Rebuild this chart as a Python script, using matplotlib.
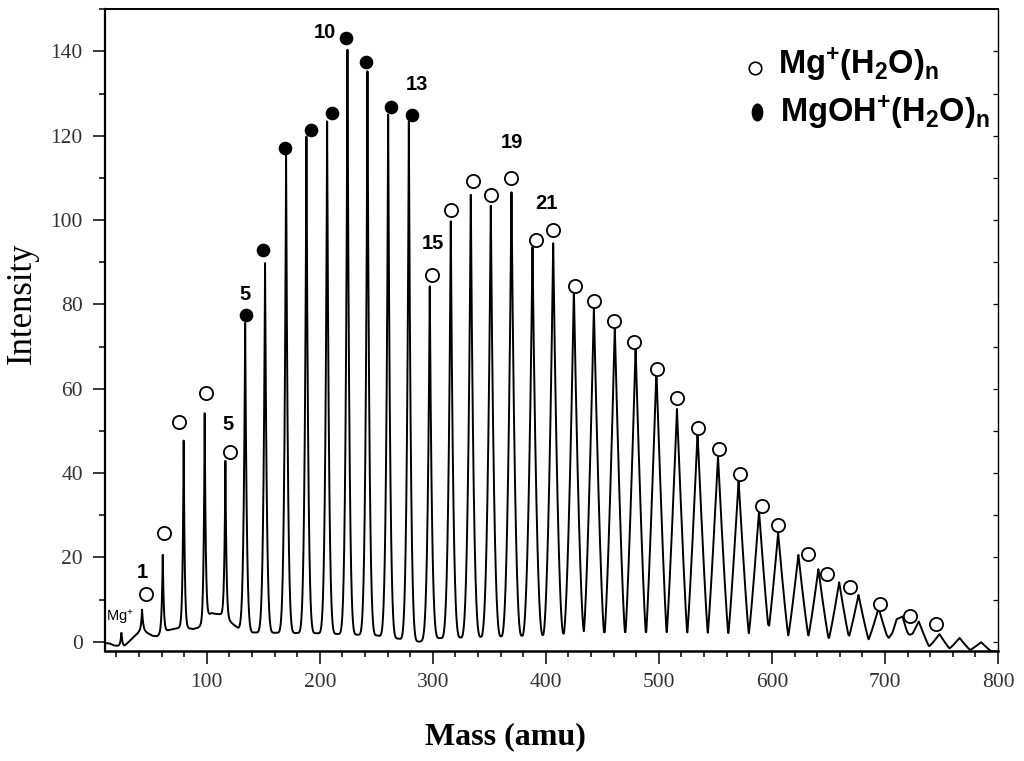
import numpy as np
import matplotlib
matplotlib.use('Agg')
import matplotlib.pyplot as plt
from matplotlib.ticker import MultipleLocator
from matplotlib.path import Path
from matplotlib.transforms import Affine2D

plt.rcParams['mathtext.fontset'] = 'custom'
plt.rcParams['mathtext.rm'] = 'Liberation Sans'
plt.rcParams['mathtext.bf'] = 'Liberation Sans:bold'
plt.rcParams['mathtext.it'] = 'Liberation Sans:italic'

# ---------------- data ----------------
# spectrum peak positions (amu) and apex intensities
peak_mass = [24.5, 42.8, 61.1, 79.6, 98.2, 116.5,
             134.0, 151.6, 170.2, 188.2, 206.5, 224.5, 242.2, 260.5, 278.8,
             297.3, 315.9, 333.6, 351.3, 369.6, 388.2, 406.5, 424.8, 442.5,
             461.0, 479.4, 497.8, 516.0, 534.2, 552.3, 570.5, 588.6, 605.5,
             623.4, 641.1, 659.5, 676.6, 694.4, 710.4, 715.5, 729.9, 748.2,
             766.0, 785.0]
peak_height = [2.1, 7.6, 20.6, 47.7, 54.2, 42.9,
               75.6, 89.8, 115.9, 119.8, 123.4, 140.4, 135.3, 125.0, 123.4,
               84.3, 99.7, 106.0, 103.4, 106.6, 93.6, 94.5, 83.8, 79.3,
               74.6, 69.6, 64.3, 55.2, 49.6, 44.0, 38.2, 31.0, 25.8,
               20.6, 17.2, 14.1, 11.1, 8.0, 5.4, 6.0, 4.8, 1.8,
               0.9, -0.1]

# baseline level between peaks
base_mass = [10, 14, 18, 22, 27, 30, 35, 40, 44, 48, 52, 56, 60, 64, 70, 76,
             80, 84, 88, 92, 96, 100, 104, 108, 112, 115, 120, 124, 128, 140,
             200, 250, 288, 300, 350, 400, 430, 500, 580, 600, 650, 700, 725,
             740, 760, 778, 796, 800]
base_val = [-0.3, -0.4, -0.9, -1.0, -1.0, -0.3, 1.0, 2.3, 2.8, 2.0, 1.4, 1.3,
            2.0, 2.6, 3.0, 3.3, 3.5, 3.2, 3.0, 3.3, 4.0, 6.0, 6.8, 6.6, 6.5,
            6.0, 5.0, 4.0, 3.2, 2.2, 2.0, 1.5, 0.0, 0.8, 1.2, 1.6, 2.2, 2.3,
            2.0, 1.6, 0.9, 0.3, 0.1, -1.1, -1.7, -1.9, -2.3, -2.3]

# Mg+(H2O)n markers (open circles)
mg_mass = [46.0, 61.9, 75.2, 99.7, 120.4, 299.4, 316.5, 335.7, 351.3, 368.8,
           391.2, 405.9, 426.0, 442.8, 460.5, 478.2, 498.0, 516.2, 534.8,
           553.4, 571.7, 590.9, 605.6, 632.0, 649.1, 668.9, 695.6, 722.2, 745.3]
mg_int = [11.3, 25.8, 52.0, 59.0, 45.1, 86.9, 102.3, 109.3, 106.0, 110.0,
          95.3, 97.7, 84.3, 80.9, 76.1, 71.1, 64.7, 57.8, 50.8,
          45.7, 39.8, 32.3, 27.7, 20.8, 16.1, 12.9, 9.0, 6.0, 4.3]

# MgOH+(H2O)n markers (filled)
mgoh_mass = [134.5, 149.8, 169.0, 192.0, 210.9, 223.6, 241.3, 262.6, 282.0]
mgoh_int = [77.5, 93.0, 117.2, 121.4, 125.4, 143.2, 137.5, 126.8, 125.0]

# cluster-size labels
label_text = ['1', '5', '5', '10', '13', '15', '19', '21']
label_mass = [42.8, 118.9, 133.6, 204.4, 285.6, 299.7, 369.6, 400.6]
label_int = [16.3, 51.5, 82.3, 144.5, 132.1, 94.5, 118.4, 104.0]

xticks = [100, 200, 300, 400, 500, 600, 700, 800]
yticks = [0, 20, 40, 60, 80, 100, 120, 140]

# ---------------- build the trace ----------------
pm = np.array(peak_mass)
ph = np.array(peak_height)
half_w = 9.0
# line-shape sharpness (tips sharp at low mass, triangular at high mass)
sharp_m = [20, 125, 135, 290, 340, 400, 440, 500, 800]
sharp_p = [10, 9, 5.5, 4.5, 3.0, 2.0, 1.4, 1.15, 1.1]
pexp = np.interp(pm, sharp_m, sharp_p)


def profile(x, c, p):
    u = np.clip(1 - np.abs(x - c) / half_w, 0, None)
    return u ** p


M = np.array([[profile(mi, cj, pj) for cj, pj in zip(pm, pexp)] for mi in pm])
amp = np.linalg.solve(M, ph - np.interp(pm, base_mass, base_val))

x = np.arange(10, 800.001, 0.05)
y = np.interp(x, base_mass, base_val)
for c, p, a in zip(pm, pexp, amp):
    y = y + a * profile(x, c, p)

# ---------------- figure ----------------
fig = plt.figure(figsize=(10.24, 7.61), dpi=100)
ax = fig.add_axes([0.10254, 0.14455, 0.87207, 0.84324])

ax.plot(x, y, color='black', lw=1.4)
ax.plot(mg_mass, mg_int, 'o', ls='none', ms=9.5, mfc='white', mec='black', mew=1.3)
ax.plot(mgoh_mass, mgoh_int, 'o', ls='none', ms=8.8, mfc='black', mec='black')

for t, m, v in zip(label_text, label_mass, label_int):
    ax.text(m, v, t, ha='center', va='center', fontsize=14.5,
            fontweight='bold', family='Liberation Sans')
ax.text(10.8, 4.7, r'Mg$^{+}$', ha='left', va='baseline', fontsize=10.5,
        family='Liberation Sans')

ax.set_xlim(10, 800)
ax.set_ylim(-2.2, 150)
ax.set_xticks(xticks)
ax.set_yticks(yticks)
ax.xaxis.set_minor_locator(MultipleLocator(20))
ax.yaxis.set_minor_locator(MultipleLocator(10))
ax.tick_params(which='major', direction='out', length=9, width=1.1,
               labelsize=15.5, labelcolor='#333333', pad=7)
ax.tick_params(which='minor', direction='out', length=4, width=1.1)
ax.tick_params(top=False, right=False, which='both')
for lab in ax.get_xticklabels() + ax.get_yticklabels():
    lab.set_family('Liberation Serif')

ax.spines['left'].set_linewidth(1.6)
ax.spines['bottom'].set_linewidth(1.8)
ax.spines['top'].set_linewidth(1.4)
ax.spines['right'].set_linewidth(1.0)

ax2 = ax.twinx()
ax2.set_ylim(ax.get_ylim())
ax2.set_yticks(np.arange(0, 141, 10))
ax2.tick_params(direction='in', length=3.5, width=0.9, labelright=False)
for s in ax2.spines.values():
    s.set_visible(False)

fig.text(22 / 1024, 1 - 303.5 / 761, 'Intensity', rotation=90, ha='center',
         va='center', fontsize=25, family='Liberation Serif')
fig.text(505 / 1024, 1 - 737 / 761, 'Mass (amu)', ha='center', va='center',
         fontsize=23, fontweight='bold', family='Liberation Serif')

# legend
fig.lines.append(plt.Line2D([755 / 1024], [1 - 68 / 761], marker='o', ms=9,
                            mfc='white', mec='black', mew=1.2, ls='none',
                            transform=fig.transFigure))
ell = Path.unit_circle().transformed(Affine2D().scale(0.62, 1.0))
fig.lines.append(plt.Line2D([756.7 / 1024], [1 - 111.7 / 761], marker=ell,
                            ms=12, mfc='black', mec='black', ls='none',
                            transform=fig.transFigure))
fig.text(778 / 1024, 1 - 74 / 761, r'$\mathbf{Mg^{+}(H_{2}O)_{n}}$',
         ha='left', va='baseline', fontsize=23.5)
fig.text(780 / 1024, 1 - 121.7 / 761, r'$\mathbf{MgOH^{+}(H_{2}O)_{n}}$',
         ha='left', va='baseline', fontsize=23.5)

fig.savefig('out.png', dpi=100)
